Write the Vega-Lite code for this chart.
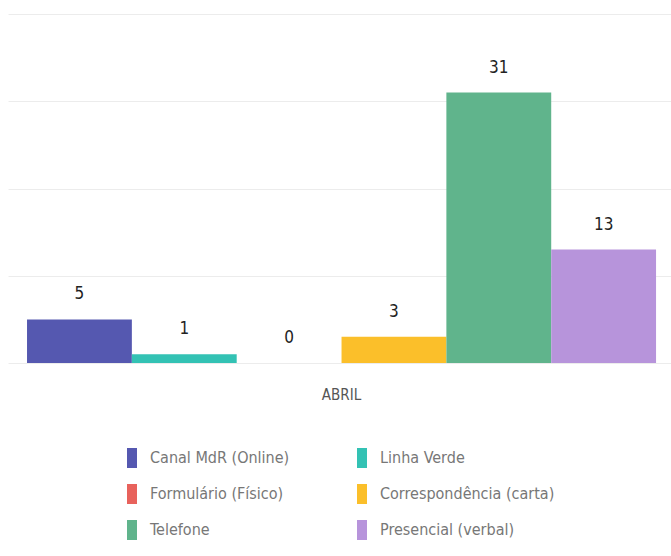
{
  "$schema": "https://vega.github.io/schema/vega-lite/v6.json",
  "width": 663,
  "height": 349,
  "autosize": {"type": "none"},
  "padding": {"left": 8, "top": 14, "right": 0, "bottom": 193},
  "background": "white",
  "data": {
    "values": [
      {"mes": "ABRIL", "canal": "Canal MdR (Online)", "valor": 5},
      {"mes": "ABRIL", "canal": "Linha Verde", "valor": 1},
      {"mes": "ABRIL", "canal": "Formulário (Físico)", "valor": 0},
      {"mes": "ABRIL", "canal": "Correspondência (carta)", "valor": 3},
      {"mes": "ABRIL", "canal": "Telefone", "valor": 31},
      {"mes": "ABRIL", "canal": "Presencial (verbal)", "valor": 13}
    ]
  },
  "encoding": {
    "x": {
      "field": "mes",
      "type": "nominal",
      "scale": {"paddingOuter": 0.027, "paddingInner": 0, "align": 0.56},
      "axis": {
        "title": null,
        "labelAngle": 0,
        "ticks": false,
        "domain": false,
        "labelPadding": 24,
        "labelFont": "DejaVu Sans Condensed",
        "labelFontSize": 15,
        "labelColor": "#555555"
      }
    },
    "xOffset": {
      "field": "canal",
      "type": "nominal",
      "sort": ["Canal MdR (Online)", "Linha Verde", "Formulário (Físico)", "Correspondência (carta)", "Telefone", "Presencial (verbal)"],
      "scale": {"paddingInner": 0, "paddingOuter": 0}
    },
    "y": {
      "field": "valor",
      "type": "quantitative",
      "scale": {"domain": [0, 40]},
      "axis": {
        "title": null,
        "labels": false,
        "ticks": false,
        "domain": false,
        "values": [0, 10, 20, 30, 40],
        "gridColor": "#ececec",
        "gridWidth": 1
      }
    }
  },
  "layer": [
    {
      "mark": {"type": "bar"},
      "encoding": {
        "color": {
          "field": "canal",
          "type": "nominal",
          "sort": ["Canal MdR (Online)", "Linha Verde", "Formulário (Físico)", "Correspondência (carta)", "Telefone", "Presencial (verbal)"],
          "scale": {
            "domain": ["Canal MdR (Online)", "Linha Verde", "Formulário (Físico)", "Correspondência (carta)", "Telefone", "Presencial (verbal)"],
            "range": ["#5558b0", "#33c2b4", "#e8625c", "#fbbf2a", "#60b48c", "#b794db"]
          },
          "legend": {
            "title": null,
            "orient": "none",
            "direction": "horizontal",
            "legendX": 114,
            "legendY": 434,
            "columns": 2,
            "symbolType": "M-0.5,-1H0.5V1H-0.5Z",
            "symbolSize": 400,
            "symbolStrokeWidth": 0,
            "labelFont": "DejaVu Sans Condensed",
            "labelFontSize": 16,
            "labelColor": "#777777",
            "labelOffset": 8,
            "labelLimit": 400,
            "columnPadding": 62,
            "rowPadding": 16
          }
        }
      }
    },
    {
      "mark": {"type": "text", "dy": -25, "font": "DejaVu Sans Condensed", "fontSize": 17, "color": "#222222"},
      "encoding": {"text": {"field": "valor", "type": "quantitative"}}
    }
  ],
  "config": {"view": {"stroke": null}}
}
